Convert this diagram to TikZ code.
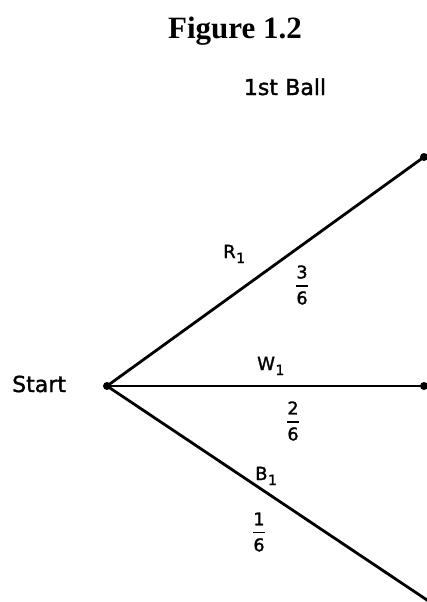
\documentclass[tikz,border=0pt]{standalone}
\usepackage{amsmath}
\usepackage{fontspec}
\setmainfont{DejaVu Sans}[BoldFont={DejaVu Sans},BoldFeatures={FakeBold=1.6}]
\newfontfamily\figfont{Liberation Serif}
\newcommand\fr[2]{$\genfrac{}{}{1.6pt}{0}{\mbox{#1}}{\mbox{#2}}$}
\newcommand\lab[2]{#1\kern0.5pt\raisebox{-5pt}{\fontsize{14}{16}\selectfont #2}}
\begin{document}
\begin{tikzpicture}[x=1pt,y=-1pt,
  lbl/.style={font=\fontsize{18}{20}\selectfont\bfseries, inner sep=0pt, anchor=base west},
  big/.style={font=\fontsize{22}{24}\selectfont\bfseries, inner sep=0pt},
  fracl/.style={font=\fontsize{17.5}{19}\selectfont\bfseries, inner sep=0pt},
  dot/.style={circle, fill=black, inner sep=0pt, minimum size=8pt},
  branch/.style={draw=black, line width=2.8pt}]
\useasboundingbox (0,0) rectangle (427,602);
\node[font=\fontsize{31}{34}\selectfont\figfont\bfseries, anchor=base, inner sep=0pt] (title) at (235,38) {Figure 1.2};
\node[big, anchor=base] (ball) at (285,95) {1st\,\,Ball};
\node[big, anchor=base west] (startlbl) at (12,392) {Start};
\node[dot] (s) at (107,386) {};
\node[dot] (r) at (424,157) {};
\node[dot] (w) at (424,386) {};
\coordinate (b) at (430,602);
\draw[branch] (s.center) -- (r.center);
\draw[branch] (s.center) -- (w.center);
\draw[branch] (s.center) -- (b);
\node[lbl] (rl) at (223,258) {\lab{R}{1}};
\node[lbl] (wl) at (257,370) {\lab{W}{1}};
\node[lbl] (bl) at (255,480) {\lab{B}{1}};
\node[fracl] (rf) at (302,285) {\fr{3}{6}};
\node[fracl] (wf) at (293,421) {\fr{2}{6}};
\node[fracl] (bf) at (259,532) {\fr{1}{6}};
\end{tikzpicture}
\end{document}
